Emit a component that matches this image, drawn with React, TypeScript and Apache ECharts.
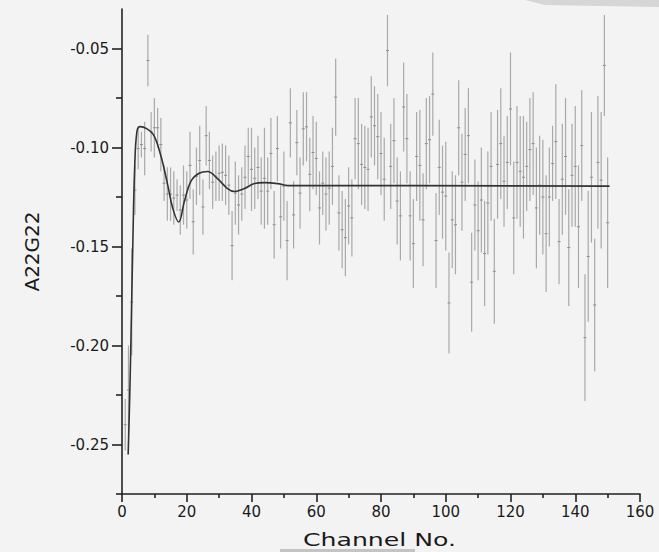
import React, { useEffect, useRef } from "react";
import * as echarts from "echarts";

// Upper ends of the error bars (channel 1..150)
const highs: number[] = [
  -0.227, -0.2, -0.151, -0.109, -0.09, -0.092, -0.087, -0.043, -0.082, -0.075,
  -0.08, -0.085, -0.109, -0.11, -0.11, -0.112, -0.116, -0.119, -0.109, -0.112,
  -0.092, -0.121, -0.1, -0.089, -0.116, -0.079, -0.092, -0.104, -0.102, -0.099,
  -0.098, -0.099, -0.104, -0.132, -0.107, -0.114, -0.11, -0.099, -0.09, -0.09,
  -0.1, -0.094, -0.105, -0.09, -0.105, -0.085, -0.122, -0.084, -0.119, -0.102,
  -0.127, -0.07, -0.117, -0.081, -0.105, -0.072, -0.072, -0.095, -0.084, -0.087,
  -0.112, -0.102, -0.105, -0.102, -0.09, -0.055, -0.114, -0.122, -0.126, -0.11,
  -0.116, -0.075, -0.075, -0.088, -0.089, -0.09, -0.064, -0.069, -0.073, -0.082,
  -0.095, -0.033, -0.088, -0.075, -0.105, -0.112, -0.057, -0.073, -0.112, -0.126,
  -0.082, -0.081, -0.113, -0.075, -0.074, -0.052, -0.123, -0.086, -0.099, -0.097,
  -0.153, -0.112, -0.114, -0.066, -0.093, -0.08, -0.07, -0.143, -0.106, -0.117,
  -0.1, -0.127, -0.102, -0.082, -0.136, -0.081, -0.07, -0.094, -0.084, -0.052,
  -0.107, -0.079, -0.084, -0.084, -0.087, -0.075, -0.072, -0.1, -0.094, -0.096,
  -0.114, -0.1, -0.089, -0.068, -0.126, -0.088, -0.075, -0.121, -0.088, -0.079,
  -0.109, -0.071, -0.164, -0.122, -0.082, -0.146, -0.074, -0.082, -0.033, -0.105,
];

// Lower ends of the error bars (channel 1..150)
const lows: number[] = [
  -0.253, -0.245, -0.205, -0.134, -0.111, -0.105, -0.114, -0.069, -0.102, -0.105,
  -0.1, -0.112, -0.127, -0.137, -0.137, -0.139, -0.132, -0.144, -0.139, -0.141,
  -0.126, -0.154, -0.129, -0.124, -0.144, -0.109, -0.121, -0.131, -0.127, -0.127,
  -0.127, -0.129, -0.134, -0.167, -0.139, -0.144, -0.137, -0.131, -0.119, -0.132,
  -0.131, -0.126, -0.139, -0.141, -0.139, -0.121, -0.156, -0.117, -0.151, -0.137,
  -0.167, -0.105, -0.151, -0.114, -0.141, -0.109, -0.107, -0.132, -0.121, -0.124,
  -0.149, -0.134, -0.142, -0.139, -0.129, -0.094, -0.152, -0.161, -0.165, -0.149,
  -0.155, -0.116, -0.121, -0.129, -0.131, -0.132, -0.105, -0.109, -0.116, -0.124,
  -0.137, -0.069, -0.131, -0.118, -0.149, -0.157, -0.102, -0.118, -0.157, -0.171,
  -0.127, -0.137, -0.16, -0.121, -0.118, -0.094, -0.171, -0.134, -0.146, -0.152,
  -0.204, -0.161, -0.164, -0.114, -0.142, -0.127, -0.118, -0.193, -0.152, -0.167,
  -0.153, -0.18, -0.154, -0.137, -0.189, -0.136, -0.126, -0.14, -0.131, -0.109,
  -0.164, -0.136, -0.14, -0.146, -0.132, -0.127, -0.124, -0.161, -0.144, -0.154,
  -0.173, -0.15, -0.127, -0.126, -0.169, -0.144, -0.134, -0.18, -0.14, -0.14,
  -0.171, -0.127, -0.228, -0.188, -0.148, -0.213, -0.141, -0.151, -0.084, -0.171,
];

// Fitted curve
const fitX: number[] = [
  1.9, 2.4, 2.8, 3.4, 3.9, 4.6, 5.6, 7.6, 9.7, 11.9, 14.1, 15.7, 17.5, 19.3,
  21.3, 23.8, 26.4, 29.5, 32.6, 34.7, 37.8, 40.9, 44, 48.1, 51.2, 60, 150.6,
];
const fitY: number[] = [
  -0.255, -0.225, -0.194, -0.144, -0.111, -0.092, -0.0894, -0.0904, -0.0935,
  -0.1035, -0.1187, -0.1308, -0.1376, -0.127, -0.117, -0.113, -0.1121, -0.1157,
  -0.1207, -0.1222, -0.1207, -0.1182, -0.1177, -0.1182, -0.1192, -0.1192, -0.1195,
];

const xTicks = { min: 0, max: 160, step: 20 };
const yMajorTicks: number[] = [-0.25, -0.2, -0.15, -0.1, -0.05];
const yMinorTicks: number[] = [-0.275, -0.225, -0.175, -0.125, -0.075];

const channels = highs.map((_, i) => i + 1);

export default function App() {
  const ref = useRef<HTMLDivElement>(null);
  useEffect(() => {
    if (!ref.current) return;
    const chart = echarts.init(ref.current, undefined, { renderer: "svg" });
    const errData = channels.map((c, i) => [c, highs[i], lows[i]]);
    const fitData = fitX.map((x, i) => [x, fitY[i]]);
    const axisColor = "#222";
    const font = "DejaVu Sans";
    chart.setOption({
      animation: false,
      backgroundColor: "#f3f3f3",
      grid: { left: 122, right: 19, top: 9, bottom: 58, containLabel: false },
      xAxis: {
        type: "value",
        min: xTicks.min,
        max: xTicks.max,
        interval: xTicks.step,
        axisLine: { onZero: false, lineStyle: { color: axisColor, width: 1.6 } },
        axisTick: { length: 8, lineStyle: { color: axisColor, width: 1.6 } },
        minorTick: { show: true, splitNumber: 2, length: 4, lineStyle: { color: axisColor, width: 1.6 } },
        splitLine: { show: false },
        minorSplitLine: { show: false },
        axisLabel: { fontSize: 15, fontFamily: font, color: "#1a1a1a", margin: 10 },
      },
      yAxis: [
        {
          type: "value",
          min: -0.275,
          max: -0.03,
          position: "left",
          name: "A22G22",
          nameLocation: "middle",
          nameGap: 80,
          nameRotate: 90,
          nameTextStyle: { fontSize: 20, fontFamily: font, color: "#1a1a1a" },
          axisLine: { show: true, onZero: false, lineStyle: { color: axisColor, width: 1.6 } },
          axisTick: { customValues: yMajorTicks, length: 10, lineStyle: { color: axisColor, width: 1.6 } },
          axisLabel: {
            customValues: yMajorTicks,
            formatter: (v: number) => v.toFixed(2),
            fontSize: 15,
            fontFamily: font,
            color: "#1a1a1a",
            margin: 13,
          },
          splitLine: { show: false },
        },
        {
          type: "value",
          min: -0.275,
          max: -0.03,
          position: "left",
          axisLine: { show: false },
          axisTick: { customValues: yMinorTicks, length: 6, lineStyle: { color: axisColor, width: 1.6 } },
          axisLabel: { show: false },
          splitLine: { show: false },
        },
      ],
      series: [
        {
          type: "custom",
          yAxisIndex: 0,
          data: errData,
          encode: { x: 0, y: [1, 2] },
          renderItem: (params: any, api: any) => {
            const x = api.value(0);
            const hi = api.value(1);
            const lo = api.value(2);
            const p1 = api.coord([x, hi]);
            const p2 = api.coord([x, lo]);
            const m = api.coord([x, (hi + lo) / 2]);
            return {
              type: "group",
              children: [
                {
                  type: "line",
                  shape: { x1: p1[0], y1: p1[1], x2: p2[0], y2: p2[1] },
                  style: { stroke: "#a9a9a9", lineWidth: 1.2 },
                },
                {
                  type: "line",
                  shape: { x1: m[0] - 1.5, y1: m[1], x2: m[0] + 1.5, y2: m[1] },
                  style: { stroke: "#8c8c8c", lineWidth: 1 },
                },
              ],
            };
          },
          z: 2,
        },
        {
          type: "line",
          yAxisIndex: 0,
          data: fitData,
          smooth: 0.4,
          showSymbol: false,
          lineStyle: { color: "#333", width: 1.6 },
          z: 3,
        },
      ],
      graphic: [
        {
          type: "polygon",
          silent: true,
          shape: { points: [[525, 0], [659, 0], [659, 7], [545, 5]] },
          style: { fill: "#d6d6d6" },
        },
        {
          type: "rect",
          silent: true,
          shape: { x: 280, y: 549, width: 135, height: 3 },
          style: { fill: "#c4c4c4" },
        },
        {
          type: "text",
          x: 379.5,
          y: 540,
          scaleX: 1.4,
          style: {
            text: "Channel No.",
            fontSize: 18,
            fontFamily: font,
            fill: "#1a1a1a",
            align: "center",
            verticalAlign: "middle",
          },
        },
      ],
    });
    return () => chart.dispose();
  }, []);
  return (
    <div
      ref={ref}
      style={{ position: "fixed", left: 0, top: 0, width: 659, height: 552 }}
    />
  );
}
